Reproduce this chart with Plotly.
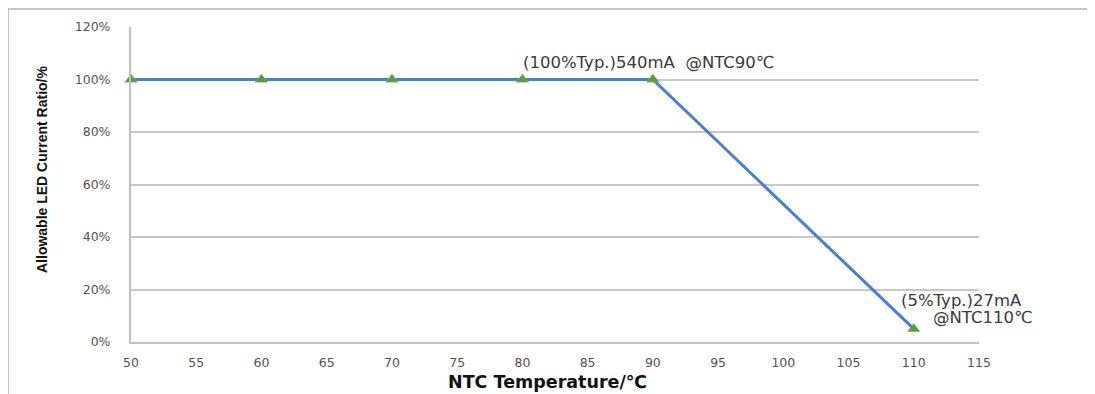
import plotly.graph_objects as go

temps = [50, 60, 70, 80, 90, 110]
ratios = [1.00, 1.00, 1.00, 1.00, 1.00, 0.05]
x_ticks = [50, 55, 60, 65, 70, 75, 80, 85, 90, 95, 100, 105, 110, 115]
y_ticks = [0, 0.2, 0.4, 0.6, 0.8, 1.0, 1.2]

# page body has an 8px margin -> work in screen coords, then offset
O = 8
SW, SH = 1095, 394
W, H = SW - O, SH - O
L, R, T, B = 131 - O, 979 - O, 27 - O, 342 - O

def px(sx):
    return (sx - O - L) / (R - L)
def py(sy):
    return (B - (sy - O)) / (B - T)
def xs(v):  # data x -> screen x
    return O + L + (v - 50) / 65 * (R - L)
def ys(v):  # data y -> screen y
    return O + B - v / 1.2 * (B - T)

fig = go.Figure()
fig.add_trace(go.Scatter(
    x=temps, y=ratios, mode="lines+markers", cliponaxis=False,
    line=dict(color="#4a7fd0", width=3),
    marker=dict(symbol="triangle-up", size=11, color="#5e9a45",
                line=dict(color="#8dbb6a", width=0.5)),
    showlegend=False, hoverinfo="skip"))

tick_font = dict(family="DejaVu Sans", size=12.5, color="#5a4f5a")
fig.update_xaxes(range=[50, 115], tickvals=x_ticks, showgrid=False,
                 showline=True, linecolor="#c0c0c0", linewidth=2,
                 ticks="outside", ticklen=8, tickcolor="rgba(0,0,0,0)",
                 tickfont=tick_font, zeroline=False)
fig.update_yaxes(range=[0, 1.2], tickvals=y_ticks, tickformat=".0%",
                 showgrid=True, gridcolor="#c8c8c8", gridwidth=2,
                 showline=True, linecolor="#c0c0c0", linewidth=2,
                 ticks="outside", ticklen=16, tickcolor="rgba(0,0,0,0)",
                 tickfont=tick_font, zeroline=False)

ann_font = dict(family="DejaVu Sans", size=16.5, color="#3a3a3a")
fig.add_annotation(x=90, y=1.0, xref="x", yref="y", text="(100%Typ.)540mA  @NTC90℃",
                   showarrow=False, xanchor="left", yanchor="middle",
                   xshift=521 - xs(90), yshift=ys(1.0) - 62, font=ann_font)
fig.add_annotation(x=110, y=0.05, xref="x", yref="y", text="(5%Typ.)27mA",
                   showarrow=False, xanchor="left", yanchor="middle",
                   xshift=899 - xs(110), yshift=ys(0.05) - 300, font=ann_font)
fig.add_annotation(x=110, y=0.05, xref="x", yref="y", text="@NTC110℃",
                   showarrow=False, xanchor="left", yanchor="middle",
                   xshift=931 - xs(110), yshift=ys(0.05) - 317, font=ann_font)

fig.add_annotation(x=px(42), y=py(170), xref="paper", yref="paper",
                   text="<b>Allowable LED Current Ratio/%</b>", textangle=-90,
                   showarrow=False, xanchor="center", yanchor="middle",
                   font=dict(family="Liberation Sans", size=14, color="#111"))
fig.add_annotation(x=px(547), y=py(382), xref="paper", yref="paper",
                   text="<b>NTC Temperature/℃</b>",
                   showarrow=False, xanchor="center", yanchor="middle",
                   font=dict(family="DejaVu Sans", size=17.5, color="#111"))

# outer frame
fig.add_shape(type="line", xref="paper", yref="paper", x0=px(8), y0=py(9), x1=px(SW + 20), y1=py(9),
              line=dict(color="#b0b0b0", width=1.5))
fig.add_shape(type="line", xref="paper", yref="paper", x0=px(8), y0=py(9), x1=px(8), y1=py(SH + 20),
              line=dict(color="#b0b0b0", width=1.5))

fig.update_layout(width=W, height=H, margin=dict(l=L, r=W - R, t=T, b=H - B),
                  plot_bgcolor="white", paper_bgcolor="white")
fig.write_html("out.html")
